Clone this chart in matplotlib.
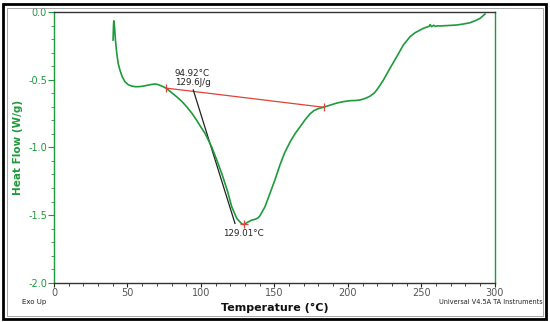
import matplotlib
matplotlib.use("Agg")
import matplotlib.pyplot as plt
from matplotlib.patches import Rectangle
from matplotlib.ticker import MultipleLocator

# ---- data ----
temp = [40.2, 40.5, 40.7, 41.0, 41.3, 41.8, 42.7, 43.7, 44.9, 46.5, 48.3, 50.5,
        52.9, 55.5, 58.5, 61.5, 64.2, 66.5, 68.8, 70.5,
        72.2, 74.2, 76.2, 80.0, 83.5, 87.0, 90.3, 94.0, 97.1, 100.0, 102.8, 105.0,
        107.3, 110.8, 114.4, 118.0, 121.0, 124.4, 127.8, 129.0, 131.2, 134.6,
        136.8, 139.0, 140.2, 142.0, 143.6, 147.0, 150.4, 153.8, 157.0, 160.7,
        164.0, 167.5, 171.0, 174.3, 177.0, 179.9, 183.8, 188.0, 192.4, 197.0,
        201.5, 205.0, 208.3, 212.0, 215.1, 218.0, 219.7, 222.0, 224.2, 228.7,
        233.3, 237.8, 242.3, 245.5, 249.2, 252.0, 255.5, 256.0, 257.0, 258.5,
        259.5, 261.0, 262.8, 268.0, 274.1, 279.0, 283.2, 287.0, 290.0, 293.4]
heat_flow = [-0.207, -0.10, -0.065, -0.085, -0.125, -0.205, -0.305, -0.38, -0.43,
             -0.48, -0.515, -0.537, -0.547, -0.552, -0.551, -0.546, -0.540,
             -0.535, -0.532, -0.535,
             -0.542, -0.551, -0.562, -0.595, -0.626, -0.660,
             -0.700, -0.750, -0.800, -0.850, -0.897, -0.945, -0.996, -1.094,
             -1.200, -1.320, -1.440, -1.525, -1.565, -1.570, -1.557, -1.537,
             -1.532, -1.520, -1.505, -1.470, -1.439, -1.340, -1.240, -1.130,
             -1.040, -0.960, -0.900, -0.848, -0.795, -0.752, -0.728, -0.714,
             -0.702, -0.688, -0.673, -0.662, -0.655, -0.654, -0.650, -0.638,
             -0.622, -0.598, -0.576, -0.540, -0.503, -0.416, -0.330, -0.244,
             -0.183, -0.155, -0.133, -0.118, -0.105, -0.093, -0.108, -0.098,
             -0.106, -0.102, -0.103, -0.100, -0.096, -0.088, -0.079, -0.063,
             -0.047, -0.015]

baseline_T = [76.2, 183.8]
baseline_HF = [-0.562, -0.704]
tangent_T = [94.8, 123.2]
tangent_HF = [-0.576, -1.562]
peak_T = 129.01
peak_HF = -1.565
onset_label = "94.92°C\n129.6J/g"
peak_label = "129.01°C"

GREEN = "#1e9a3c"

fig = plt.figure(figsize=(5.5, 3.22), dpi=100)
ax = fig.add_axes([0.0982, 0.122, 0.8013, 0.8407])

ax.plot(temp, heat_flow, color=GREEN, lw=1.2, zorder=3,
        solid_joinstyle="round")
ax.plot(baseline_T, baseline_HF, color="#e0413a", lw=0.9, zorder=2)
ax.plot(baseline_T, baseline_HF, ls="none", marker="|", ms=6, mew=0.9,
        color="#e0413a", zorder=4)
ax.plot(tangent_T, tangent_HF, color="#222222", lw=0.9, zorder=2)
ax.plot([peak_T], [peak_HF], ls="none", marker="+", ms=6, mew=0.9,
        color="#e0413a", zorder=4)

ax.text(94.3, -0.49, onset_label, ha="center", va="center", fontsize=6.3,
        color="#222222", linespacing=1.0)
ax.text(peak_T, -1.635, peak_label, ha="center", va="center", fontsize=6.3,
        color="#222222")

ax.set_xlim(0, 300)
ax.set_ylim(-2.0, 0.0)
ax.xaxis.set_major_locator(MultipleLocator(50))
ax.xaxis.set_minor_locator(MultipleLocator(10))
ax.yaxis.set_major_locator(MultipleLocator(0.5))
ax.yaxis.set_minor_locator(MultipleLocator(0.1))
ax.yaxis.set_major_formatter(matplotlib.ticker.FormatStrFormatter("%.1f"))

ax.tick_params(axis="y", which="major", colors=GREEN, labelsize=7, length=4,
               width=0.8, pad=1)
ax.tick_params(axis="y", which="minor", colors=GREEN, length=2, width=0.6)
ax.tick_params(axis="x", which="major", colors="#222222", labelcolor="#555555",
               labelsize=7, length=3, width=0.8, pad=1)
ax.tick_params(axis="x", which="minor", colors="#222222", length=2, width=0.6)

for s in ("left", "right"):
    ax.spines[s].set_color(GREEN)
    ax.spines[s].set_linewidth(1.0)
for s in ("top", "bottom"):
    ax.spines[s].set_color("#333333")
    ax.spines[s].set_linewidth(1.0)

ax.set_ylabel("Heat Flow (W/g)", color=GREEN, fontsize=7.5, fontweight="bold",
              labelpad=4)
ax.set_xlabel("Temperature (°C)", color="#111111", fontsize=8,
              fontweight="bold", labelpad=3)

fig.text(22 / 550, 1 - 302 / 322, "Exo Up", fontsize=5, color="#222222",
         ha="left", va="center")
fig.text(543 / 550, 1 - 302 / 322, "Universal V4.5A TA Instruments",
         fontsize=4.7, color="#222222", ha="right", va="center")

# outer frame
fig.patches.append(Rectangle((3 / 550, 3 / 322), 543 / 550, 315 / 322,
                             transform=fig.transFigure, fill=False,
                             edgecolor="black", lw=2.0))
fig.patches.append(Rectangle((6.5 / 550, 6.5 / 322), 536 / 550, 308 / 322,
                             transform=fig.transFigure, fill=False,
                             edgecolor="#999999", lw=0.6))

fig.savefig("out.png", dpi=100)
